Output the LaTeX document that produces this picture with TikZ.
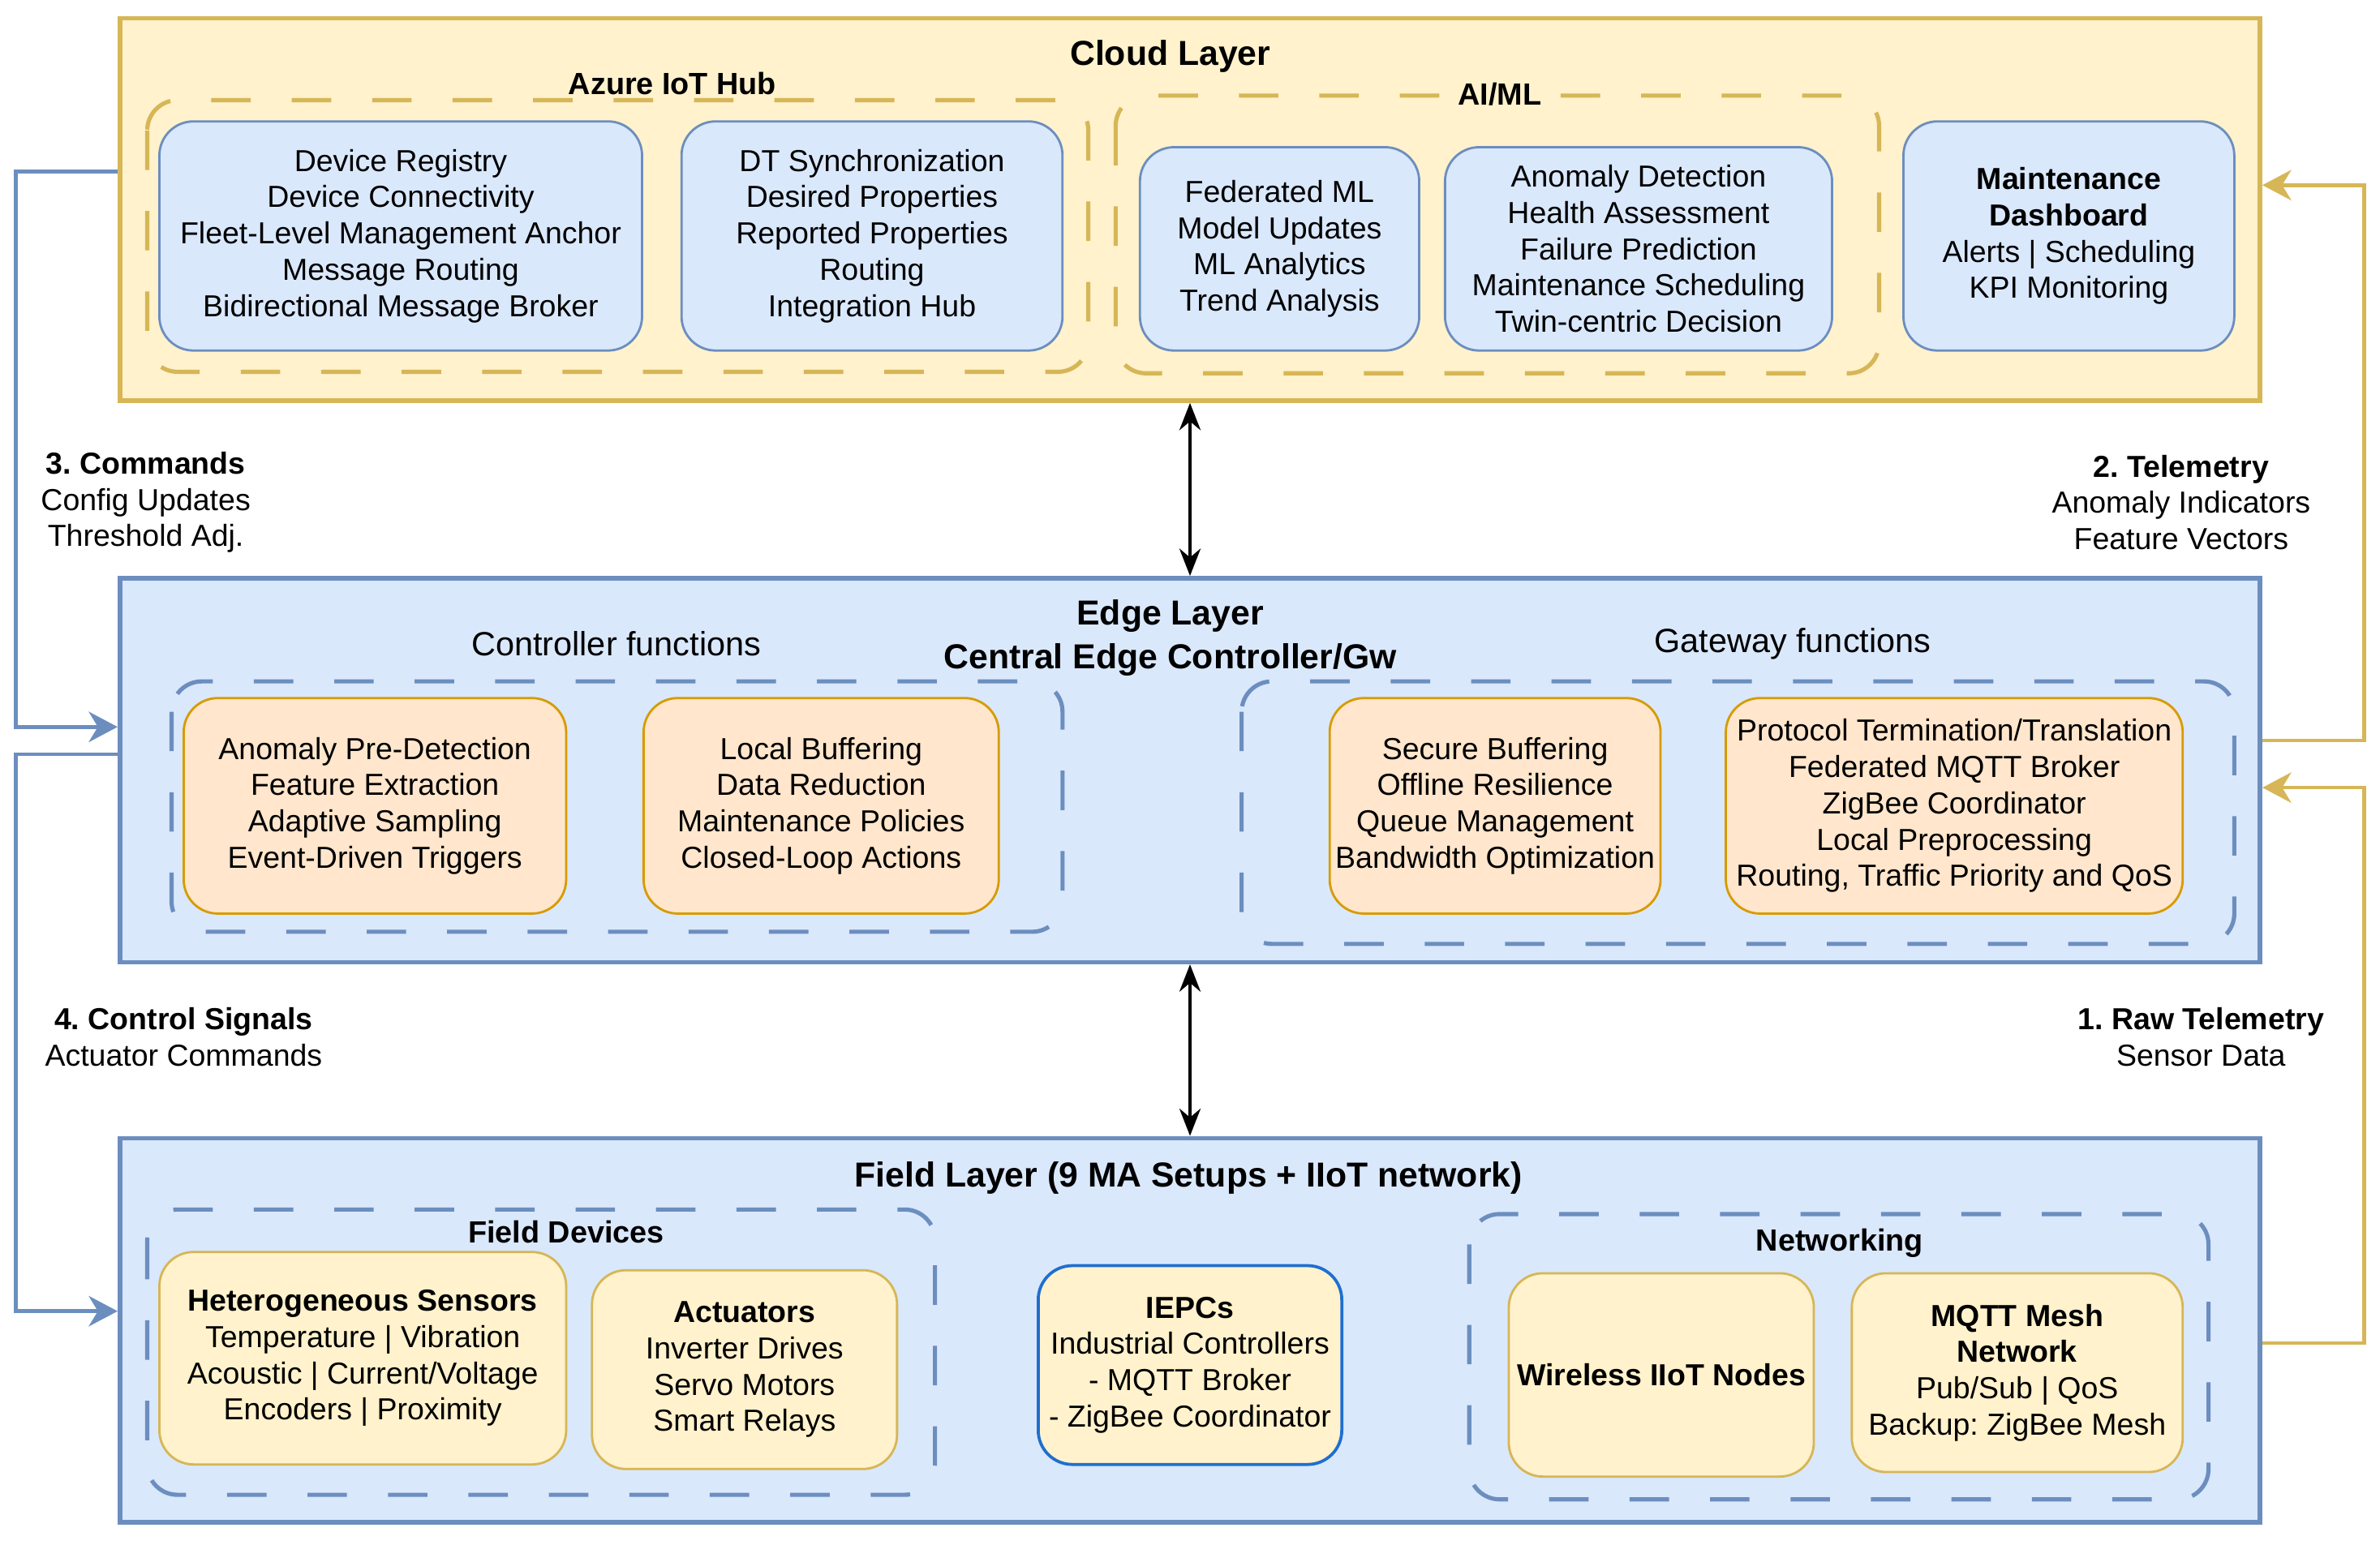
\documentclass[tikz,border=0pt]{standalone}
\usepackage{fontspec}
\setmainfont{Liberation Sans}
\usetikzlibrary{arrows.meta,positioning}
\definecolor{cloudfill}{HTML}{FFF2CC}
\definecolor{cloudline}{HTML}{D6B656}
\definecolor{bluefill}{HTML}{DAE8FC}
\definecolor{blueline}{HTML}{6C8EBF}
\definecolor{orangefill}{HTML}{FFE6CC}
\definecolor{orangeline}{HTML}{D79B00}
\definecolor{iepcline}{HTML}{1F6FD0}
\frenchspacing

\begin{document}
\begin{tikzpicture}[x=0.2mm,y=-0.2mm,
  layer/.style={draw, line width=0.6mm, minimum width=282mm, minimum height=50.6mm, inner sep=0},
  box/.style={draw, line width=0.3mm, rounded corners=4.5mm, align=center, inner sep=0,
    font=\fontsize{11.4}{13.6}\selectfont},
  bluebox/.style={box, fill=bluefill, draw=blueline},
  orangebox/.style={box, fill=orangefill, draw=orangeline},
  yellowbox/.style={box, fill=cloudfill, draw=cloudline},
  group/.style={line width=0.55mm, rounded corners=4mm, dash pattern=on 5.2mm off 5.4mm},
  title/.style={font=\fontsize{13}{16.4}\selectfont\bfseries, align=center},
  grouplabel/.style={font=\fontsize{11.5}{13.6}\selectfont\bfseries},
  plainlabel/.style={font=\fontsize{12.6}{13.6}\selectfont},
  flowlabel/.style={font=\fontsize{11.4}{13.6}\selectfont, align=center},
  flow/.style={line width=0.5mm, -{Stealth[length=3.8mm, width=4mm, inset=1.2mm]}},
  link/.style={line width=0.4mm, {Stealth[length=3.6mm, width=2.8mm]}-{Stealth[length=3.6mm, width=2.8mm]}}]
\useasboundingbox (0,0) rectangle (1568,1018);

% layers
\node (cloud) at (784,138) [layer, fill=cloudfill, draw=cloudline, minimum height=50.4mm] {};
\node (edge) at (784,507.5) [layer, fill=bluefill, draw=blueline] {};
\node (field) at (784,876.5) [layer, fill=bluefill, draw=blueline] {};

\node (cloudt) at (771,37) [title] {Cloud Layer};
\node (edget) at (771,420.5) [title] {Edge Layer\\Central Edge Controller/Gw};
\node (fieldt) at (783,776) [title] {Field Layer (9 MA Setups + IIoT network)};

% cloud layer
\draw[group, draw=cloudline] (97,66) rectangle (717,245);
\draw[group, draw=cloudline] (735,63) rectangle (1238,246);
\node (azt) at (443,55) [grouplabel] {Azure IoT Hub};
\node (ait) at (988,62) [grouplabel, fill=cloudfill, inner xsep=6pt] {AI/ML};

\node (az1) at (264,155.5) [bluebox, minimum width=63.6mm, minimum height=30.2mm]
  {Device Registry\\Device Connectivity\\Fleet-Level Management Anchor\\Message Routing\\Bidirectional Message Broker};
\node (az2) at (574.5,155.5) [bluebox, minimum width=50.2mm, minimum height=30.2mm]
  {DT Synchronization\\Desired Properties\\Reported Properties\\Routing\\Integration Hub};
\node (ai1) at (843,164) [bluebox, minimum width=36.8mm, minimum height=26.8mm]
  {Federated ML\\Model Updates\\ML Analytics\\Trend Analysis};
\node (ai2) at (1079.5,164) [bluebox, minimum width=51mm, minimum height=26.8mm]
  {Anomaly Detection\\Health Assessment\\Failure Prediction\\Maintenance Scheduling\\Twin-centric Decision};
\node (dash) at (1363,155.5) [bluebox, minimum width=43.6mm, minimum height=30.2mm]
  {\textbf{Maintenance}\\\textbf{Dashboard}\\Alerts | Scheduling\\KPI Monitoring};

% edge layer
\draw[group, draw=blueline] (113,449) rectangle (700,614);
\draw[group, draw=blueline] (818,449) rectangle (1472,622);
\node (ctlt) at (406,424) [plainlabel] {Controller functions};
\node (gwt) at (1181,424) [plainlabel] {Gateway functions};

\node (ctl1) at (247,531) [orangebox, minimum width=50.4mm, minimum height=28.4mm]
  {Anomaly Pre-Detection\\Feature Extraction\\Adaptive Sampling\\Event-Driven Triggers};
\node (ctl2) at (541,531) [orangebox, minimum width=46.8mm, minimum height=28.4mm]
  {Local Buffering\\Data Reduction\\Maintenance Policies\\Closed-Loop Actions};
\node (gw1) at (985,531) [orangebox, minimum width=43.6mm, minimum height=28.4mm]
  {Secure Buffering\\Offline Resilience\\Queue Management\\Bandwidth Optimization};
\node (gw2) at (1287.5,531) [orangebox, minimum width=60.2mm, minimum height=28.4mm]
  {Protocol Termination/Translation\\Federated MQTT Broker\\ZigBee Coordinator\\Local Preprocessing\\Routing, Traffic Priority and QoS};

% field layer
\draw[group, draw=blueline] (97,797) rectangle (616,985);
\draw[group, draw=blueline] (968,800) rectangle (1455,988);
\node (fdt) at (373,812) [grouplabel] {Field Devices};
\node (nett) at (1212,819) [grouplabel] {Networking};

\node (sens) at (239,895) [yellowbox, minimum width=53.6mm, minimum height=28mm]
  {\textbf{Heterogeneous Sensors}\\Temperature | Vibration\\Acoustic | Current/Voltage\\Encoders | Proximity};
\node (act) at (490.5,902.5) [yellowbox, minimum width=40.2mm, minimum height=26.2mm]
  {\textbf{Actuators}\\Inverter Drives\\Servo Motors\\Smart Relays};
\node (iepc) at (784,899.5) [yellowbox, draw=iepcline, line width=0.4mm, minimum width=40mm, minimum height=26.2mm]
  {\textbf{IEPCs}\\Industrial Controllers\\- MQTT Broker\\- ZigBee Coordinator};
\node (wnode) at (1094.5,906) [yellowbox, minimum width=40.2mm, minimum height=26.8mm]
  {\textbf{Wireless IIoT Nodes}};
\node (mesh) at (1329,904.5) [yellowbox, minimum width=43.6mm, minimum height=26.2mm]
  {\textbf{MQTT Mesh}\\\textbf{Network}\\Pub/Sub | QoS\\Backup: ZigBee Mesh};

% connectors
\draw[link] (cloud.south) -- (edge.north);
\draw[link] (edge.south) -- (field.north);

\draw[flow, draw=blueline] ([yshift=5mm]cloud.west) -- ++(-67,0) |- ([yshift=5.7mm]edge.west);
\draw[flow, draw=blueline] ([yshift=2.1mm]edge.west) -- ++(-67,0) |- ([yshift=2.5mm]field.west);
\draw[flow, draw=cloudline] ([yshift=3.9mm]edge.east) -- ++(67,0) |- ([yshift=3.2mm]cloud.east);
\draw[flow, draw=cloudline] ([yshift=-1.7mm]field.east) -- ++(67,0) |- ([yshift=-2.3mm]edge.east);

\node (cmdl) at (96,331) [flowlabel] {\textbf{3. Commands}\\Config Updates\\Threshold Adj.};
\node (ctrll) at (121,683.5) [flowlabel] {\textbf{4. Control Signals}\\Actuator Commands};
\node (tell) at (1437,331) [flowlabel] {\textbf{2. Telemetry}\\Anomaly Indicators\\Feature Vectors};
\node (rawl) at (1450,683.5) [flowlabel] {\textbf{1. Raw Telemetry}\\Sensor Data};
\end{tikzpicture}
\end{document}
